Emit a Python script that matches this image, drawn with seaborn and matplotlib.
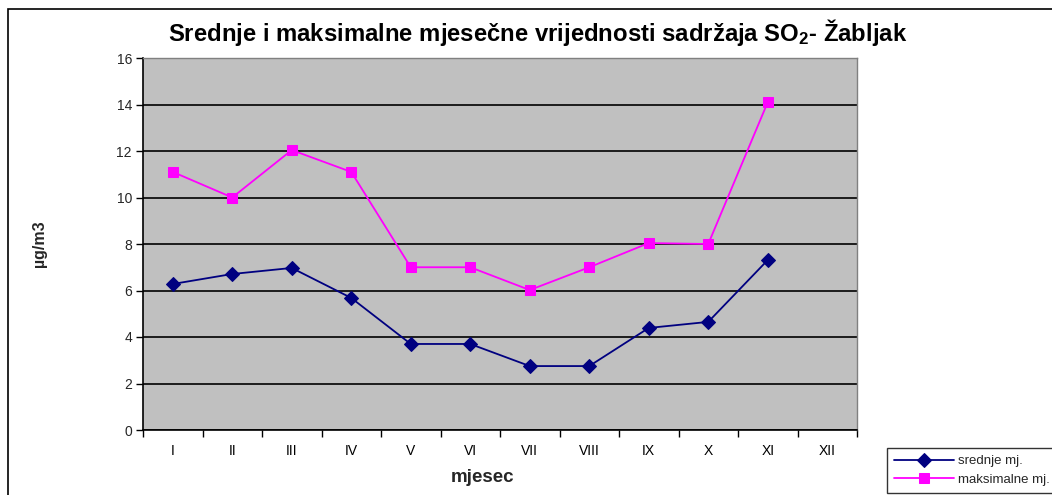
import numpy as np
import pandas as pd
import matplotlib
matplotlib.use("Agg")
import matplotlib.pyplot as plt
import matplotlib.patches as mpatches
from matplotlib.ticker import FixedLocator, NullFormatter
import seaborn as sns

months = ["I", "II", "III", "IV", "V", "VI", "VII", "VIII", "IX", "X", "XI", "XII"]
srednje = [6.28, 6.71, 6.97, 5.68, 3.70, 3.70, 2.75, 2.75, 4.39, 4.65, 7.31, np.nan]
maksimalne = [11.1, 10.0, 12.04, 11.1, 7.0, 7.0, 6.02, 7.0, 8.04, 8.0, 14.1, np.nan]
y_ticks = [0, 2, 4, 6, 8, 10, 12, 14, 16]

sns.set_theme(style="white")
plt.rcParams["font.family"] = ["Liberation Sans", "DejaVu Sans"]
plt.rcParams["mathtext.fontset"] = "custom"
plt.rcParams["mathtext.rm"] = "Liberation Sans:bold"
plt.rcParams["mathtext.it"] = "Liberation Sans:bold"
plt.rcParams["mathtext.bf"] = "Liberation Sans:bold"

df = pd.DataFrame({"pos": np.arange(len(months)), "srednje mj.": srednje, "maksimalne mj.": maksimalne})

fig = plt.figure(figsize=(10.52, 4.95), dpi=100)
fig.patch.set_facecolor("white")
ax = fig.add_axes([143/1052, 1-430/495, (857-143)/1052, (430-58)/495])
ax.set_facecolor("#C0C0C0")

sns.lineplot(data=df, x="pos", y="srednje mj.", ax=ax, color="#000080", marker="D",
             markersize=7, markeredgecolor="#000080", linewidth=1.3, label="srednje mj.")
sns.lineplot(data=df, x="pos", y="maksimalne mj.", ax=ax, color="#FF00FF", marker="s",
             markersize=7, markeredgecolor="#FF00FF", linewidth=1.3, label="maksimalne mj.")

ax.set_xlim(-0.5, len(months) - 0.5)
ax.set_ylim(0, 16)
ax.set_yticks(y_ticks)
ax.set_yticklabels([str(v) for v in y_ticks], fontsize=10)
ax.set_xticks(np.arange(len(months)))
ax.set_xticklabels(months, fontsize=10)
ax.xaxis.set_minor_locator(FixedLocator(np.arange(-0.5, len(months), 1.0)))
ax.xaxis.set_minor_formatter(NullFormatter())
ax.tick_params(axis="x", which="major", length=0, pad=10, colors="black")
ax.tick_params(axis="x", which="minor", length=5, width=1, direction="out", color="black", bottom=True)
ax.tick_params(axis="y", which="major", length=5, width=1, direction="out", color="black", left=True, pad=3)
ax.grid(axis="y", color="black", linewidth=1.2)
ax.set_axisbelow(True)
for s in ["top", "right"]:
    ax.spines[s].set_color("#808080")
    ax.spines[s].set_linewidth(1)
for s in ["left", "bottom"]:
    ax.spines[s].set_color("black")
    ax.spines[s].set_linewidth(1.2)

ax.set_xlabel("")
ax.set_ylabel("")
fig.text(483/1052, 1-478/495, "mjesec", fontsize=13.5, fontweight="bold", ha="center", va="center")
fig.text(40/1052, 1-244/495, "µg/m3", fontsize=11.5, fontweight="bold", ha="center", va="center", rotation=90)
fig.text(538/1052, 1-33/495, r"Srednje i maksimalne mjesečne vrijednosti sadržaja SO$_2$- Žabljak",
         fontsize=17.2, fontweight="bold", ha="center", va="center", color="black")

ax.get_legend().remove()
handles, labels = ax.get_legend_handles_labels()
leg = fig.legend(handles, labels, loc="upper left", bbox_to_anchor=(887/1052, 1-448/495),
                 frameon=True, fancybox=False, fontsize=9.5, handlelength=4.5, borderpad=0.55,
                 labelspacing=0.45, handletextpad=0.3, borderaxespad=0)
leg.get_frame().set_edgecolor("black")
leg.get_frame().set_linewidth(1)

border = mpatches.Rectangle((8/1052, -0.05), 1.1, 1 - 9/495 + 0.05, transform=fig.transFigure,
                            fill=False, edgecolor="black", linewidth=1.2)
fig.patches.append(border)

fig.savefig("out.png", dpi=100)
